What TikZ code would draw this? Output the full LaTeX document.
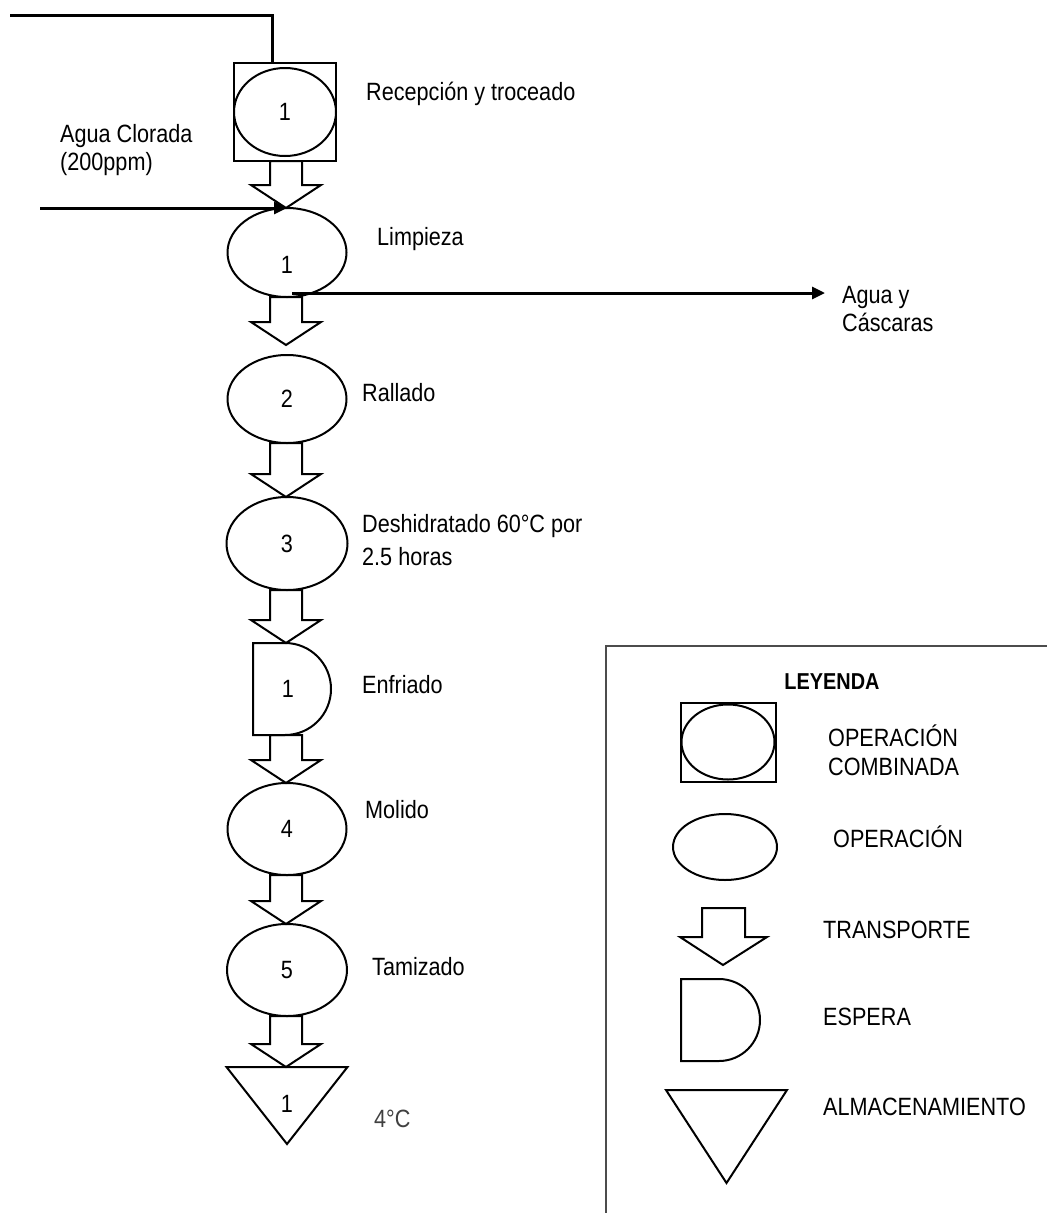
\documentclass[tikz,border=0pt]{standalone}
\usepackage{fontspec}
\setmainfont[FakeStretch=0.865]{Liberation Sans}
\usetikzlibrary{arrows.meta,positioning,shapes.geometric,calc}

% eje del diagrama de flujo
\def\eje{286pt}
% flecha de transporte entre dos puntos
\newcommand{\transp}[2]{%
  \draw[tra] let \p1=(#1), \p2=(#2) in
    (\eje-16pt,\y1) -- (\eje-16pt,\y2+23pt) -- (\eje-35pt,\y2+23pt) -- (\eje,\y2)
    -- (\eje+35pt,\y2+23pt) -- (\eje+16pt,\y2+23pt) -- (\eje+16pt,\y1) -- cycle;}

\begin{document}
\begin{tikzpicture}[x=1pt, y=-1pt, >=Stealth,
    font=\fontsize{25}{29}\selectfont,
    op/.style={draw, ellipse, line width=2pt, inner sep=0pt, outer sep=0pt, font=\fontsize{25}{28}\selectfont},
    sq/.style={draw, rectangle, line width=2pt, inner sep=0pt, outer sep=0pt},
    hueco/.style={rectangle, inner sep=0pt, outer sep=0pt, font=\fontsize{25}{28}\selectfont},
    tra/.style={draw, line width=2pt, line join=miter},
    forma/.style={draw, line width=2pt},
    flujo/.style={line width=3pt, -{Triangle[length=13pt,width=12pt]}},
    linea/.style={line width=3pt},
    txt/.style={anchor=base west, inner sep=0pt, align=left},
    caja/.style={draw=black!70, line width=1.3pt}]
  \useasboundingbox (0,0) rectangle (1047,1213);

  % proceso
  \node[sq, minimum width=102pt, minimum height=98pt] (rec) at (285,112) {};
  \node[op, minimum width=102pt, minimum height=88pt] (reco) at (rec.center) {1};
  \node[op, minimum width=119pt, minimum height=89pt, below=47pt of rec, xshift=2pt] (lim) {\raisebox{-12pt}[\height][0pt]{1}};
  \node[op, minimum width=119pt, minimum height=88pt, below=58pt of lim] (ral) {2};
  \node[op, minimum width=121pt, minimum height=93pt, below=54pt of ral] (des) {3};
  \node[hueco, minimum width=78pt, minimum height=92pt, below=53pt of des, xshift=5pt] (enf) {\hspace*{-8pt}1};
  \draw[forma] (enf.north west) -- ++(32,0) arc[start angle=90, end angle=-90, radius=46pt]
    -- (enf.south west) -- cycle;
  \node[op, minimum width=119pt, minimum height=92pt, below=48pt of enf, xshift=-5pt] (mol) {4};
  \node[op, minimum width=120pt, minimum height=92pt, below=49pt of mol] (tam) {5};
  \node[hueco, minimum width=121pt, minimum height=77pt, below=51pt of tam] (alm) {\raisebox{3pt}{1}};
  \draw[forma] (alm.north west) -- (alm.north east) -- (alm.south) -- cycle;

  \coordinate[above=10pt of ral.north] (t2);
  \transp{rec.south}{lim.north}
  \transp{lim.south}{t2}
  \transp{ral.south}{des.north}
  \transp{des.south}{enf.north}
  \transp{enf.south}{mol.north}
  \transp{mol.south}{tam.north}
  \transp{tam.south}{alm.north}

  % entradas y salidas
  \coordinate (entrada) at (10,15);
  \coordinate (codo) at (272,15);
  \draw[linea] (entrada) -- (codo) -- (codo |- rec.north);
  \coordinate (agua) at (40,208);
  \draw[flujo] (agua) -- (lim.north);
  \coordinate (salida) at (825,293);
  \draw[flujo] ($(lim.south)+(5,-4)$) -- (salida);

  \node[txt] (t-rec) at (366,100) {Recepción y troceado};
  \node[txt] (t-agua) at (60,170) {Agua Clorada\\[-1pt](200ppm)};
  \node[txt] (t-lim) at (377,245) {Limpieza};
  \node[txt] (t-sal) at (842,331) {Agua y\\[-1pt]Cáscaras};
  \node[txt] (t-ral) at (362,401) {Rallado};
  \node[txt] (t-des) at (362,565) {Deshidratado 60°C por\\[4pt]2.5 horas};
  \node[txt] (t-enf) at (362,693) {Enfriado};
  \node[txt] (t-mol) at (365,818) {Molido};
  \node[txt] (t-tam) at (372,975) {Tamizado};
  \node[txt, text=black!75] (t-alm) at (374,1127) {4°C};

  % leyenda
  \draw[caja] (606,1213) -- (606,646) -- (1047,646);
  \node[anchor=base, inner sep=0pt, font=\fontsize{23}{26}\selectfont\bfseries] (ley) at (832,689) {LEYENDA};
  \node[sq, minimum width=95pt, minimum height=79pt] (lsq) at (728,742) {};
  \node[op, minimum width=93pt, minimum height=75pt] (lsqo) at (lsq.center) {};
  \node[txt] (t-comb) at (828,775) {OPERACIÓN\\COMBINADA};
  \node[op, minimum width=104pt, minimum height=66pt] (lop) at (725,847) {};
  \node[txt] (t-op) at (833,847) {OPERACIÓN};
  \draw[tra] (702,908) -- (702,937) -- (680,937) -- (723,965) -- (767,937) -- (745,937) -- (745,908) -- cycle;
  \node[txt] (t-tra) at (823,938) {TRANSPORTE};
  \node[hueco, minimum width=79pt, minimum height=82pt] (lesp) at (720.5,1020) {};
  \draw[forma] (lesp.north west) -- ++(38,0) arc[start angle=90, end angle=-90, radius=41pt]
    -- (lesp.south west) -- cycle;
  \node[txt] (t-esp) at (823,1025) {ESPERA};
  \node[hueco, minimum width=121pt, minimum height=93pt] (lalm) at (726.5,1136.5) {};
  \draw[forma] (lalm.north west) -- (lalm.north east) -- (lalm.south) -- cycle;
  \node[txt] (t-lalm) at (823,1115) {ALMACENAMIENTO};
\end{tikzpicture}
\end{document}
